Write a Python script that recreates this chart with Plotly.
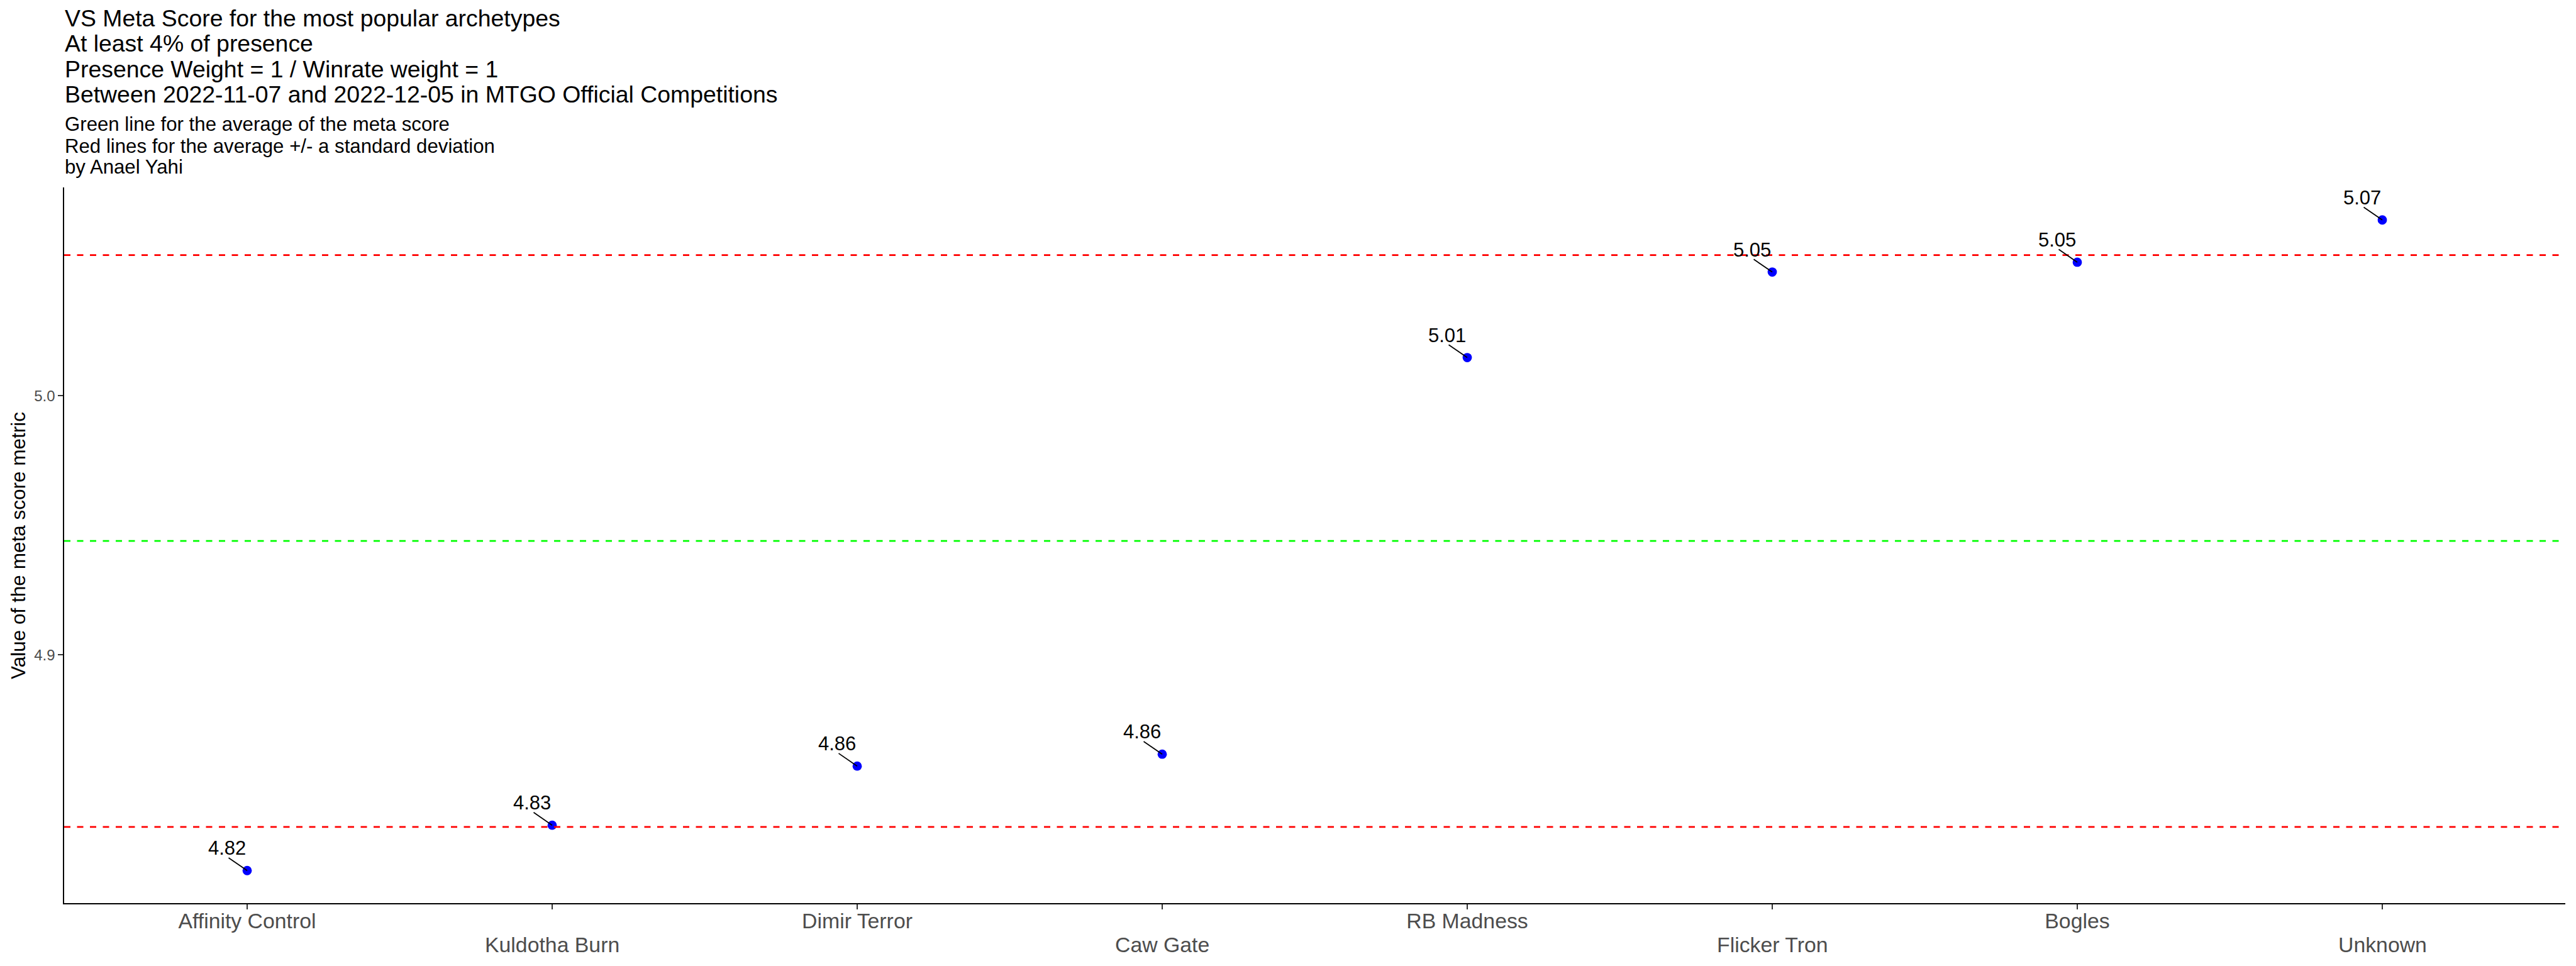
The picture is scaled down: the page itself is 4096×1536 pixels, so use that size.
import numpy as np
import plotly.graph_objects as go

# ---------------- data ----------------
archetypes = ["Affinity Control", "Kuldotha Burn", "Dimir Terror", "Caw Gate",
              "RB Madness", "Flicker Tron", "Bogles", "Unknown"]
meta_score = [4.8168, 4.8343, 4.8571, 4.8617, 5.0147, 5.0477, 5.0515, 5.0678]
y_tick_values = [4.9, 5.0]

title_lines = [
    "VS Meta Score for the most popular archetypes",
    "At least 4% of presence",
    "Presence Weight = 1 / Winrate weight = 1",
    "Between 2022-11-07 and 2022-12-05 in MTGO Official Competitions",
]
subtitle_lines = [
    "Green line for the average of the meta score",
    "Red lines for the average +/- a standard deviation",
    "by Anael Yahi",
]
y_title = "Value of the meta score metric"

# ---------------- layout geometry (px) ----------------
W, H = 4096, 1536
ML, MR, MT, MB = 101.6, 17.4, 298.3, 99.8
PW = W - ML - MR
PH = H - MT - MB
FONT = "Liberation Sans, Arial, Helvetica, sans-serif"


def px_x(xpx):
    return (xpx - ML) / PW


def px_y(ypx):
    return (MT + PH - ypx) / PH


mean_v = float(np.mean(meta_score))
sd_v = float(np.std(meta_score, ddof=1))
lo, hi = min(meta_score), max(meta_score)
span = hi - lo
y_range = [lo - 0.05 * span, hi + 0.05 * span]

fig = go.Figure()
fig.add_trace(go.Scatter(
    x=archetypes, y=meta_score, mode="markers",
    marker=dict(color="#0000FF", size=14.8, line=dict(width=0)),
    showlegend=False, hoverinfo="x+y",
))

shapes = []
for val, col in [(mean_v, "#00FF00"), (mean_v + sd_v, "#FF0000"), (mean_v - sd_v, "#FF0000")]:
    shapes.append(dict(type="line", xref="paper", x0=0, x1=1, yref="y", y0=val, y1=val,
                       line=dict(color=col, width=2.7, dash="10px,10.5px"), layer="above"))
for i, v in enumerate(meta_score):
    shapes.append(dict(type="line", xref="x", yref="y", xsizemode="pixel", ysizemode="pixel",
                       xanchor=i, yanchor=v, x0=-29.5, y0=20.3, x1=0, y1=0,
                       line=dict(color="black", width=1.8), layer="above"))

annotations = []
# data labels
for i, v in enumerate(meta_score):
    annotations.append(dict(x=i, y=v, xref="x", yref="y", text=f"{v:.2f}", showarrow=False,
                            xanchor="center", yanchor="middle", xshift=-32.5, yshift=35.4,
                            font=dict(family=FONT, size=31, color="black")))
# title lines
title_base = [43.2, 83.6, 124.5, 164.0]
for txt, b in zip(title_lines, title_base):
    f = 37.4
    annotations.append(dict(x=px_x(100.9), y=px_y(b + 0.212 * f + 1), xref="paper", yref="paper",
                            text=txt, showarrow=False, xanchor="left", yanchor="bottom",
                            font=dict(family=FONT, size=f, color="black")))
sub_base = [209.7, 244.2, 277.3]
for txt, b in zip(subtitle_lines, sub_base):
    f = 31.2
    annotations.append(dict(x=px_x(100.9), y=px_y(b + 0.212 * f + 1), xref="paper", yref="paper",
                            text=txt, showarrow=False, xanchor="left", yanchor="bottom",
                            font=dict(family=FONT, size=f, color="black")))
# y axis title
annotations.append(dict(x=px_x(28.5), y=0.5, xref="paper", yref="paper", text=y_title,
                        showarrow=False, textangle=-90, xanchor="center", yanchor="middle",
                        font=dict(family=FONT, size=31.5, color="black")))
# second row of x labels (dodged)
for i, name in enumerate(archetypes):
    if i % 2 == 1:
        annotations.append(dict(x=i, y=0, xref="x", yref="paper", text=name, showarrow=False,
                                xanchor="center", yanchor="top", yshift=-45.4,
                                font=dict(family=FONT, size=33.8, color="#4D4D4D")))

fig.update_layout(
    width=W, height=H,
    margin=dict(l=ML, r=MR, t=MT, b=MB, autoexpand=False),
    paper_bgcolor="white", plot_bgcolor="white",
    showlegend=False,
    shapes=shapes, annotations=annotations,
    xaxis=dict(type="category", range=[-0.6, len(archetypes) - 0.4],
               tickmode="array", tickvals=archetypes,
               ticktext=[a if i % 2 == 0 else "" for i, a in enumerate(archetypes)],
               ticks="outside", ticklen=7.5, tickwidth=2.2, tickcolor="#333333",
               ticklabelstandoff=-10,
               showline=True, linecolor="black", linewidth=2.4,
               showgrid=False, zeroline=False,
               tickfont=dict(family=FONT, size=33.8, color="#4D4D4D")),
    yaxis=dict(range=y_range, tickmode="array", tickvals=y_tick_values,
               ticktext=[f"{t:.1f}" for t in y_tick_values],
               ticks="outside", ticklen=7.5, tickwidth=2.2, tickcolor="#333333",
               showline=True, linecolor="black", linewidth=2.4,
               showgrid=False, zeroline=False,
               tickfont=dict(family=FONT, size=24, color="#4D4D4D")),
)

fig.write_html("out.html")
